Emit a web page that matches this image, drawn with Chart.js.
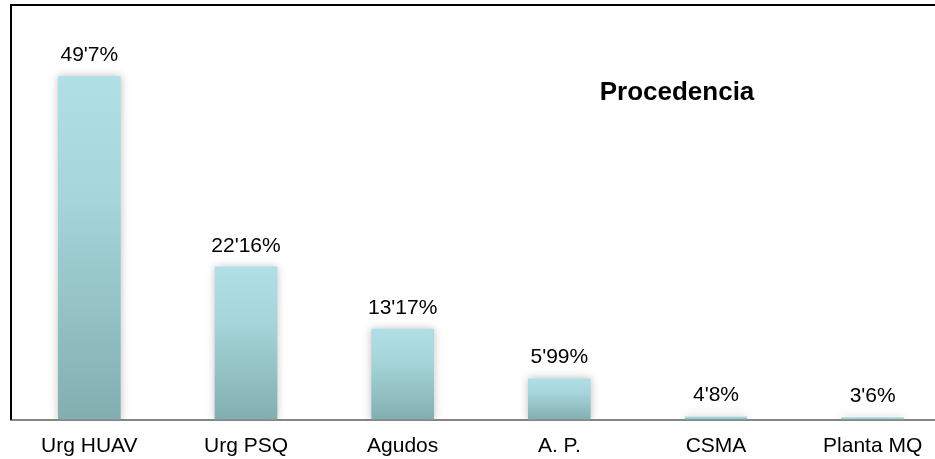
<!DOCTYPE html>
<html>
<head>
<meta charset="utf-8">
<script src="https://cdn.jsdelivr.net/npm/chart.js@4/dist/chart.umd.min.js"></script>
<style>
  html, body { margin: 0; padding: 0; background: #fff; overflow: hidden; width: 935px; height: 459px; }
  #wrap { position: absolute; left: 0; top: 0; width: 951px; height: 473px; }
</style>
</head>
<body>
<div id="wrap"><canvas id="c"></canvas></div>
<script>
const categories = ["Urg HUAV", "Urg PSQ", "Agudos", "A. P.", "CSMA", "Planta MQ"];
const values = [49.7, 22.16, 13.17, 5.99, 0.48, 0.36];
const valueLabels = ["49'7%", "22'16%", "13'17%", "5'99%", "4'8%", "3'6%"];
const chartTitle = "Procedencia";

const FONT = "'Liberation Sans', Arial, sans-serif";

function barGradient(ctx) {
  const chart = ctx.chart;
  const y = chart.scales && chart.scales.y;
  if (!chart.chartArea || !y || ctx.raw === undefined) return '#b0e0e6';
  const top = y.getPixelForValue(ctx.raw);
  const base = y.getPixelForValue(0);
  if (!isFinite(top) || !isFinite(base) || base - top < 1) return '#b0e0e6';
  const g = chart.ctx.createLinearGradient(0, top, 0, base);
  g.addColorStop(0, '#b0e0e6');
  g.addColorStop(0.35, '#a6d6da');
  g.addColorStop(1, '#82aeb0');
  return g;
}

const decor = {
  id: 'decor',
  beforeDatasetsDraw(chart) {
    const c = chart.ctx;
    c.save();
    c.shadowColor = 'rgba(0,0,0,0.25)';
    c.shadowBlur = 8;
    c.shadowOffsetX = 0;
    c.shadowOffsetY = 0;
  },
  afterDatasetsDraw(chart) {
    const c = chart.ctx;
    c.restore();
    const a = chart.chartArea;
    // frame: top and left lines
    c.save();
    c.strokeStyle = '#000';
    c.lineWidth = 2;
    c.beginPath();
    c.moveTo(a.left, a.bottom);
    c.lineTo(a.left, a.top);
    c.lineTo(chart.width, a.top);
    c.stroke();
    c.restore();
    // value labels
    const meta = chart.getDatasetMeta(0);
    c.save();
    c.fillStyle = '#000';
    c.font = '21px ' + FONT;
    c.textAlign = 'center';
    c.textBaseline = 'alphabetic';
    meta.data.forEach((bar, i) => {
      c.fillText(valueLabels[i], bar.x, bar.y - 15);
    });
    // title
    c.font = 'bold 26px ' + FONT;
    c.textBaseline = 'middle';
    c.fillText(chartTitle, 677, 93);
    c.restore();
  }
};

new Chart(document.getElementById('c'), {
  type: 'bar',
  data: {
    labels: categories,
    datasets: [{
      data: values,
      backgroundColor: barGradient,
      borderWidth: 0,
      barPercentage: 0.4,
      categoryPercentage: 1.0
    }]
  },
  options: {
    responsive: true,
    maintainAspectRatio: false,
    animation: false,
    layout: { padding: { left: 11, top: 5, right: 0, bottom: 0 } },
    plugins: { legend: { display: false }, tooltip: { enabled: false }, title: { display: false } },
    scales: {
      x: {
        grid: { display: false, drawTicks: false },
        border: { display: true, color: '#858585', width: 2 },
        ticks: { color: '#000', font: { family: FONT, size: 21 }, padding: 14, maxRotation: 0, autoSkip: false }
      },
      y: {
        display: false,
        min: 0,
        max: 60
      }
    }
  },
  plugins: [decor]
});
</script>
</body>
</html>
